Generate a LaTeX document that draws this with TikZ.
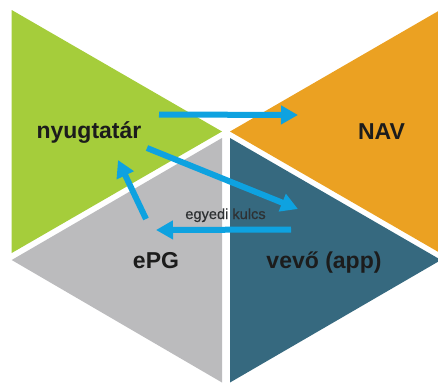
\documentclass[tikz,border=0pt]{standalone}
\usepackage{fontspec}
\setmainfont{Liberation Sans}
\newfontfamily\medfont[FakeBold=0.6]{Liberation Sans}
\usetikzlibrary{arrows.meta}
\definecolor{cgreen}{HTML}{A5CD3B}
\definecolor{corange}{HTML}{EBA122}
\definecolor{cgray}{HTML}{BBBBBD}
\definecolor{cblue}{HTML}{36697F}
\definecolor{carrow}{HTML}{0EA2E0}
\definecolor{ctext}{HTML}{1C1C1C}
\definecolor{csmall}{HTML}{2E3133}
\begin{document}
\begin{tikzpicture}[x=1pt,y=-1pt,
  bigtext/.style={font=\fontsize{23}{26}\selectfont\bfseries, text=ctext, anchor=base, inner sep=0pt},
  smalltext/.style={font=\medfont\fontsize{14.6}{17}\selectfont, text=csmall, anchor=base, inner sep=0pt},
  flow/.style={draw=carrow, line width=6pt, -{Triangle[length=17pt,width=18pt]}}]
\useasboundingbox (0,0) rectangle (438,383);
\clip (0,0) rectangle (438,383);
% triangles
\fill[cgreen] (11.7,10) -- (222,131.5) -- (11.7,253) -- cycle;
\fill[corange] (230,131.5) -- (441,9.5) -- (441,253.5) -- cycle;
\fill[cgray] (222,138) -- (11.7,260) -- (222,382.5) -- cycle;
\fill[cblue] (230,138) -- (441,260) -- (230,382.5) -- cycle;
% labels
\node[bigtext] (nyug) at (89,138.5) {nyugtatár};
\node[bigtext] (nav) at (381.5,139.3) {NAV};
\node[bigtext] (epg) at (156,268) {ePG};
\node[bigtext] (vevo) at (324,268) {vevő (app)};
\node[smalltext] (kulcs) at (225.5,219) {egyedi kulcs};
% arrow endpoints
\coordinate (a1s) at (159,114.5);
\coordinate (a1e) at (298,115);
\coordinate (a2s) at (147,148);
\coordinate (a2e) at (298,209);
\coordinate (a3s) at (291,229.5);
\coordinate (a3e) at (156,230);
\coordinate (a4s) at (146,219);
\coordinate (a4e) at (118,160);
\draw[flow] (a1s) -- (a1e);
\draw[flow] (a2s) -- (a2e);
\draw[flow] (a3s) -- (a3e);
\draw[flow] (a4s) -- (a4e);
\end{tikzpicture}
\end{document}
